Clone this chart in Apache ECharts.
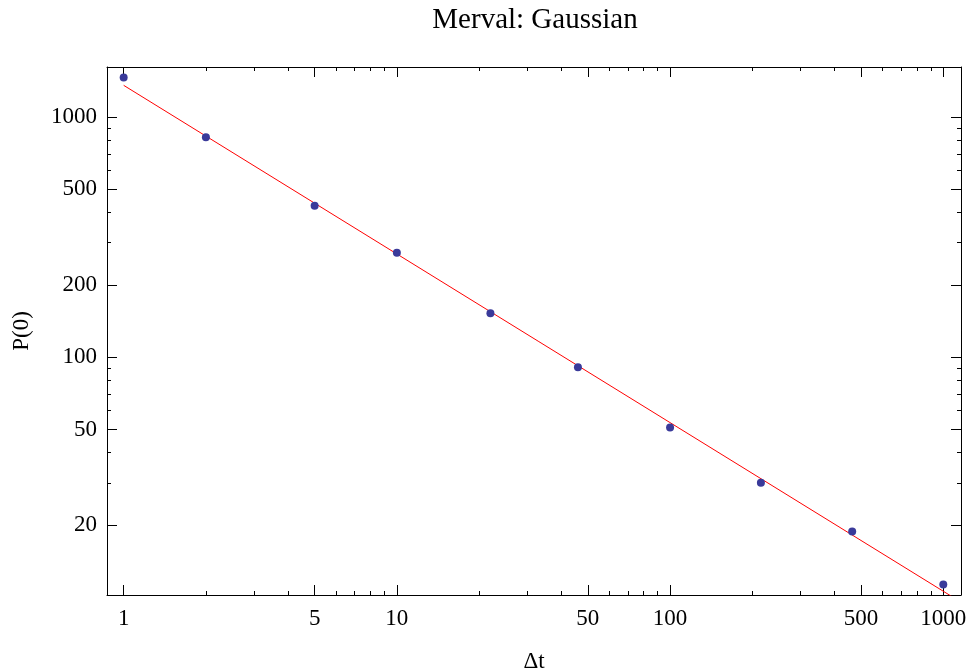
<!DOCTYPE html>
<html>
<head>
<meta charset="utf-8">
<script src="https://cdn.jsdelivr.net/npm/echarts@6/dist/echarts.min.js"></script>
<style>html,body{margin:0;padding:0;background:#fff}#c{width:968px;height:671px}</style>
</head>
<body>
<div id="c"></div>
<script>
// Data
var dtValues = [1, 2, 5, 10, 22, 46, 100, 215, 464, 1000];
var p0Values = [1459, 823, 427, 272, 152.5, 90.8, 50.9, 30.0, 18.8, 11.3];
var fitX = [1, 1161];
var fitY = [1354, 9.55];
var xMajorTicks = [1, 5, 10, 50, 100, 500, 1000];
var xMinorTicks = [2, 3, 4, 6, 7, 8, 9, 20, 30, 40, 60, 70, 80, 90, 200, 300, 400, 600, 700, 800, 900];
var yMajorTicks = [20, 50, 100, 200, 500, 1000];
var yMinorTicks = [30, 40, 60, 70, 80, 90, 300, 400, 600, 700, 800, 900];
var xRange = [0.869, 1161];
var yRange = [10.23, 1614];

var FONT = 'Liberation Serif';
var chart = echarts.init(document.getElementById('c'), null, {renderer: 'canvas'});

function plain(v) { return String(Math.round(v)); }

function xAx(pos, ticks, len, labels, line) {
  return {
    type: 'log', logBase: 10, position: pos, min: xRange[0], max: xRange[1],
    splitLine: {show: false}, minorTick: {show: false},
    axisLine: {show: line, lineStyle: {color: '#000', width: 1}},
    axisTick: {show: true, inside: true, length: len, customValues: ticks, lineStyle: {color: '#000', width: 1}},
    axisLabel: labels ? {show: true, customValues: xMajorTicks, formatter: plain, color: '#000', fontFamily: FONT, fontSize: 23, margin: 12, hideOverlap: false} : {show: false},
    name: labels ? 'Δt' : '', nameLocation: 'middle', nameGap: 55,
    nameTextStyle: {color: '#000', fontFamily: FONT, fontSize: 23}
  };
}
function yAx(pos, ticks, len, labels, line) {
  return {
    type: 'log', logBase: 10, position: pos, min: yRange[0], max: yRange[1],
    splitLine: {show: false}, minorTick: {show: false},
    axisLine: {show: line, lineStyle: {color: '#000', width: 1}},
    axisTick: {show: true, inside: true, length: len, customValues: ticks, lineStyle: {color: '#000', width: 1}},
    axisLabel: labels ? {show: true, customValues: yMajorTicks, formatter: plain, color: '#000', fontFamily: FONT, fontSize: 23, margin: 10, hideOverlap: false} : {show: false},
    name: labels ? 'P(0)' : '', nameLocation: 'middle', nameGap: 74, nameRotate: 90,
    nameTextStyle: {color: '#000', fontFamily: FONT, fontSize: 23}
  };
}

var option = {
  animation: false,
  backgroundColor: '#fff',
  title: {
    text: 'Merval: Gaussian', left: 530, top: 1, textAlign: 'center',
    textStyle: {color: '#000', fontFamily: FONT, fontSize: 29, fontWeight: 'normal'}
  },
  grid: {left: 107, right: 7, top: 67, bottom: 76, containLabel: false, outerBoundsMode: 'none'},
  xAxis: [
    xAx('bottom', xMajorTicks, 10, true, true),
    xAx('bottom', xMinorTicks, 4, false, false),
    xAx('top', xMajorTicks, 10, false, true),
    xAx('top', xMinorTicks, 4, false, false)
  ],
  yAxis: [
    yAx('left', yMajorTicks, 10, true, true),
    yAx('left', yMinorTicks, 4, false, false),
    yAx('right', yMajorTicks, 10, false, true),
    yAx('right', yMinorTicks, 4, false, false)
  ],
  series: [
    {
      type: 'line', xAxisIndex: 0, yAxisIndex: 0,
      data: fitX.map(function (x, i) { return [x, fitY[i]]; }),
      showSymbol: false, symbol: 'none', clip: true,
      lineStyle: {color: '#ff0000', width: 1}, z: 2
    },
    {
      type: 'scatter', xAxisIndex: 0, yAxisIndex: 0,
      data: dtValues.map(function (x, i) { return [x, p0Values[i]]; }),
      symbol: 'circle', symbolSize: 8,
      itemStyle: {color: '#3a3a9a', opacity: 1}, z: 3
    }
  ]
};
chart.setOption(option);
</script>
</body>
</html>
